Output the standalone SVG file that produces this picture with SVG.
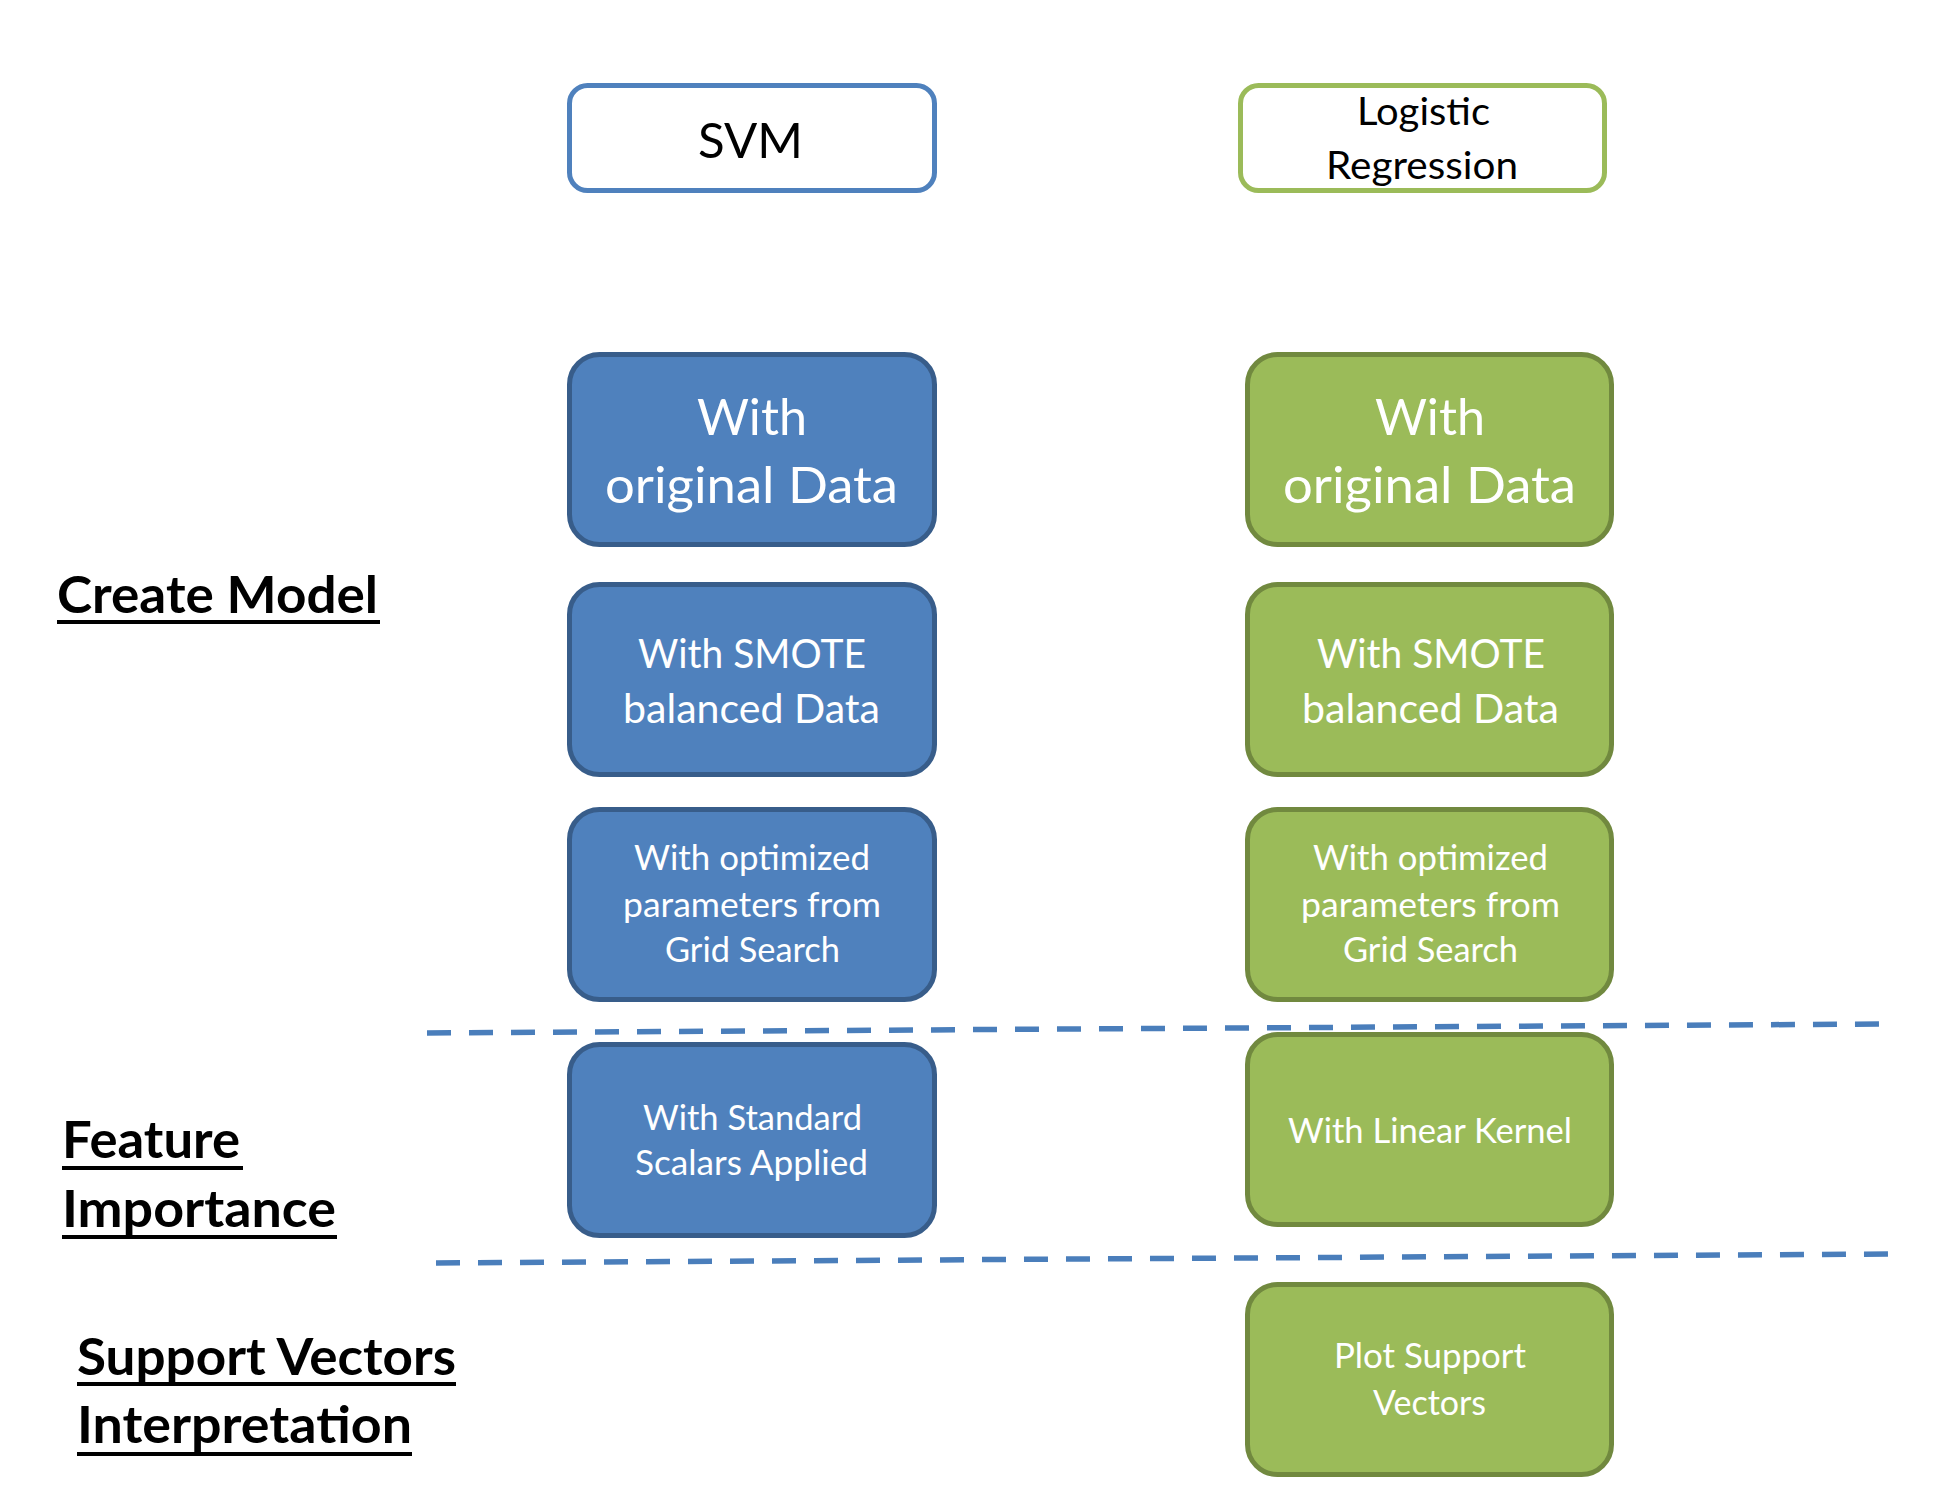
<svg xmlns="http://www.w3.org/2000/svg" width="1936" height="1509" viewBox="0 0 1936 1509">
<style>
  text { font-family: Lato, "Liberation Sans", sans-serif; }
  .hdr-blue { fill: #ffffff; stroke: #4F81BD; stroke-width: 5; }
  .hdr-green { fill: #ffffff; stroke: #9BBB59; stroke-width: 5; }
  .box-blue { fill: #4F81BD; stroke: #385D8A; stroke-width: 5; }
  .box-green { fill: #9BBB59; stroke: #71893F; stroke-width: 5; }
  .dark { fill: #000000; }
  .white { fill: #ffffff; }
  .big { font-size: 51px; }
  .mid { font-size: 40px; }
  .small { font-size: 34px; }
  .hdr { font-size: 49px; }
  .hdr2 { font-size: 39.5px; }
  .label { font-size: 51px; font-weight: bold; fill: #000000; }
  .uline { stroke: #000000; stroke-width: 4; }
  .divider { fill: none; stroke: #4A7EBB; stroke-width: 5.5; stroke-dasharray: 24 18; stroke-linecap: butt; }
</style>
<rect x="0" y="0" width="1936" height="1509" fill="#ffffff"/>

<g id="dividers">
  <line class="divider" x1="427" y1="1033" x2="1879" y2="1024"/>
  <line class="divider" x1="436" y1="1263" x2="1888" y2="1254"/>
</g>

<g id="svm-header">
  <rect class="hdr-blue" x="569.5" y="85.5" width="365" height="105" rx="18"/>
  <text class="dark hdr" x="698" y="158" textLength="105" lengthAdjust="spacingAndGlyphs">SVM</text>
</g>
<g id="lr-header">
  <rect class="hdr-green" x="1240.5" y="85.5" width="364" height="105" rx="18"/>
  <text class="dark hdr2" x="1357" y="125" textLength="133" lengthAdjust="spacingAndGlyphs">Logistic</text>
  <text class="dark hdr2" x="1326" y="179" textLength="192" lengthAdjust="spacingAndGlyphs">Regression</text>
</g>

<g id="svm-original">
  <rect class="box-blue" x="569.5" y="354.5" width="365" height="190" rx="30"/>
  <text class="white big" x="697" y="435" textLength="110" lengthAdjust="spacingAndGlyphs">With</text>
  <text class="white big" x="605" y="503" textLength="293" lengthAdjust="spacingAndGlyphs">original Data</text>
</g>
<g id="svm-smote">
  <rect class="box-blue" x="569.5" y="584.5" width="365" height="190" rx="30"/>
  <text class="white mid" x="638" y="668" textLength="228" lengthAdjust="spacingAndGlyphs">With SMOTE</text>
  <text class="white mid" x="623" y="723" textLength="257" lengthAdjust="spacingAndGlyphs">balanced Data</text>
</g>
<g id="svm-grid">
  <rect class="box-blue" x="569.5" y="809.5" width="365" height="190" rx="30"/>
  <text class="white small" x="634" y="870" textLength="236" lengthAdjust="spacingAndGlyphs">With optimized</text>
  <text class="white small" x="623" y="917" textLength="258" lengthAdjust="spacingAndGlyphs">parameters  from</text>
  <text class="white small" x="665" y="962" textLength="175" lengthAdjust="spacingAndGlyphs">Grid Search</text>
</g>
<g id="svm-scalars">
  <rect class="box-blue" x="569.5" y="1044.5" width="365" height="191" rx="30"/>
  <text class="white small" x="643" y="1130" textLength="219" lengthAdjust="spacingAndGlyphs">With Standard</text>
  <text class="white small" x="635" y="1175" textLength="233" lengthAdjust="spacingAndGlyphs">Scalars  Applied</text>
</g>

<g id="lr-original">
  <rect class="box-green" x="1247.5" y="354.5" width="364" height="190" rx="30"/>
  <text class="white big" x="1375" y="435" textLength="110" lengthAdjust="spacingAndGlyphs">With</text>
  <text class="white big" x="1283" y="503" textLength="293" lengthAdjust="spacingAndGlyphs">original Data</text>
</g>
<g id="lr-smote">
  <rect class="box-green" x="1247.5" y="584.5" width="364" height="190" rx="30"/>
  <text class="white mid" x="1317" y="668" textLength="228" lengthAdjust="spacingAndGlyphs">With SMOTE</text>
  <text class="white mid" x="1302" y="723" textLength="257" lengthAdjust="spacingAndGlyphs">balanced Data</text>
</g>
<g id="lr-grid">
  <rect class="box-green" x="1247.5" y="809.5" width="364" height="190" rx="30"/>
  <text class="white small" x="1313" y="870" textLength="235" lengthAdjust="spacingAndGlyphs">With optimized</text>
  <text class="white small" x="1301" y="917" textLength="259" lengthAdjust="spacingAndGlyphs">parameters  from</text>
  <text class="white small" x="1343" y="962" textLength="175" lengthAdjust="spacingAndGlyphs">Grid Search</text>
</g>
<g id="lr-linear">
  <rect class="box-green" x="1247.5" y="1034.5" width="364" height="190" rx="30"/>
  <text class="white small" x="1288" y="1143" textLength="284" lengthAdjust="spacingAndGlyphs">With Linear Kernel</text>
</g>
<g id="lr-plot">
  <rect class="box-green" x="1247.5" y="1284.5" width="364" height="190" rx="30"/>
  <text class="white small" x="1334" y="1368" textLength="192" lengthAdjust="spacingAndGlyphs">Plot Support</text>
  <text class="white small" x="1373" y="1415" textLength="113" lengthAdjust="spacingAndGlyphs">Vectors</text>
</g>

<g id="label-create-model">
  <text class="label" x="57" y="613" textLength="321" lengthAdjust="spacingAndGlyphs">Create Model</text>
  <line class="uline" x1="57" y1="622" x2="380" y2="622"/>
</g>
<g id="label-feature-importance">
  <text class="label" x="62" y="1158" textLength="178" lengthAdjust="spacingAndGlyphs">Feature</text>
  <line class="uline" x1="62" y1="1168" x2="243" y2="1168"/>
  <text class="label" x="62" y="1227" textLength="274" lengthAdjust="spacingAndGlyphs">Importance</text>
  <line class="uline" x1="62" y1="1237" x2="337" y2="1237"/>
</g>
<g id="label-support-vectors">
  <text class="label" x="77" y="1375" textLength="379" lengthAdjust="spacingAndGlyphs">Support Vectors</text>
  <line class="uline" x1="77" y1="1384" x2="456" y2="1384"/>
  <text class="label" x="77" y="1443" textLength="335" lengthAdjust="spacingAndGlyphs">Interpretation</text>
  <line class="uline" x1="77" y1="1454" x2="412" y2="1454"/>
</g>
</svg>
